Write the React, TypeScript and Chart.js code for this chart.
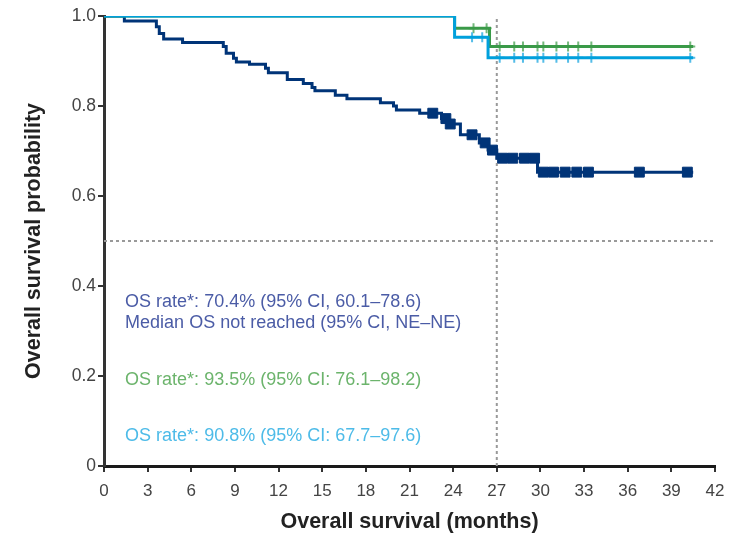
import React, { useEffect, useRef } from 'react';
import { Chart, registerables } from 'chart.js';

Chart.register(...registerables);

// ---- axis ticks ----
const xTickValues = [0, 3, 6, 9, 12, 15, 18, 21, 24, 27, 30, 33, 36, 39, 42];
const yTickValues = [0, 0.2, 0.4, 0.6, 0.8, 1.0];

// ---- navy curve (all patients) ----
const navyTimes = [0, 1.4, 3.6, 3.8, 4.1, 5.4, 8.2, 8.4, 8.9, 9.1, 10.0, 11.1, 11.3, 12.6, 13.7, 14.3, 14.5, 15.9, 16.7, 19.0, 19.9, 20.1, 21.7, 23.2, 23.6, 24.5, 25.8, 26.4, 27.0, 29.8, 40.5];
const navySurv = [1.0, 0.989, 0.976, 0.961, 0.949, 0.941, 0.932, 0.917, 0.906, 0.898, 0.893, 0.884, 0.874, 0.859, 0.85, 0.841, 0.834, 0.824, 0.816, 0.807, 0.8, 0.791, 0.784, 0.772, 0.76, 0.736, 0.718, 0.702, 0.684, 0.653, 0.653];
const navyCensor = [22.6, 23.5, 23.8, 25.3, 26.2, 26.7, 27.4, 28.1, 28.9, 29.6, 30.2, 30.9, 31.7, 32.5, 33.3, 36.8, 40.1];

// ---- green curve ----
const greenTimes = [0, 24.1, 26.5, 40.5];
const greenSurv = [1.0, 0.973, 0.932, 0.932];
const greenCensor = [25.4, 26.3, 27.2, 28.2, 28.8, 29.8, 30.2, 31.1, 31.9, 32.6, 33.5, 40.3];

// ---- cyan curve ----
const cyanTimes = [0, 24.1, 26.4, 40.5];
const cyanSurv = [1.0, 0.953, 0.907, 0.907];
const cyanCensor = [25.3, 26.0, 27.2, 28.2, 28.8, 29.8, 30.2, 31.1, 31.9, 32.6, 33.5, 40.3];

// ---- reference lines ----
const refMonth = 27;
const refSurvival = 0.5;

// ---- annotations ----
const noteLines = [
  'OS rate*: 70.4% (95% CI, 60.1–78.6)',
  'Median OS not reached (95% CI, NE–NE)',
  'OS rate*: 93.5% (95% CI: 76.1–98.2)',
  'OS rate*: 90.8% (95% CI: 67.7–97.6)',
];
const noteMonth = 1.45;
const noteSurvival = [0.364, 0.318, 0.191, 0.067];
const noteColors = ['#4b5ca6', '#4b5ca6', '#6cb46c', '#4dbbe8'];

const NAVY = '#003478';
const GREEN = '#3a9a48';
const CYAN = '#00a0dc';
const FONT = '"Liberation Sans", Arial, sans-serif';

function curve(times: number[], surv: number[]) {
  return times.map((t, i) => ({ x: t, y: surv[i] }));
}
function survAt(times: number[], surv: number[], t: number) {
  let v = surv[0];
  for (let i = 0; i < times.length; i++) if (times[i] <= t) v = surv[i];
  return v;
}
function censorPts(times: number[], surv: number[], cens: number[]) {
  return cens.map((t) => ({ x: t, y: survAt(times, surv, t) }));
}

const notesPlugin = {
  id: 'notes',
  afterDatasetsDraw(chart: any) {
    const { ctx, scales } = chart;
    ctx.save();
    ctx.font = '18px ' + FONT;
    ctx.textAlign = 'left';
    ctx.textBaseline = 'middle';
    noteLines.forEach((txt, i) => {
      ctx.fillStyle = noteColors[i];
      ctx.fillText(txt, scales.x.getPixelForValue(noteMonth), scales.y.getPixelForValue(noteSurvival[i]));
    });
    ctx.restore();
  },
};

export default function App() {
  const ref = useRef<HTMLCanvasElement | null>(null);
  useEffect(() => {
    if (!ref.current) return;
    const lineBase = { type: 'line', stepped: 'before', pointRadius: 0, borderWidth: 3, fill: false };
    const chart = new Chart(ref.current, {
      type: 'line',
      data: {
        datasets: [
          { ...lineBase, label: 'cyan', data: curve(cyanTimes, cyanSurv), borderColor: CYAN },
          { type: 'line', label: 'cyanC', data: censorPts(cyanTimes, cyanSurv, cyanCensor), showLine: false, pointStyle: 'cross', pointRadius: 5, pointBorderWidth: 2, pointBorderColor: '#55bde8' },
          { ...lineBase, label: 'green', data: curve(greenTimes, greenSurv), borderColor: GREEN },
          { type: 'line', label: 'greenC', data: censorPts(greenTimes, greenSurv, greenCensor), showLine: false, pointStyle: 'cross', pointRadius: 5, pointBorderWidth: 2, pointBorderColor: '#74b87c' },
          { type: 'line', label: 'navyC', data: censorPts(navyTimes, navySurv, navyCensor), showLine: false, pointStyle: 'rect', pointRadius: 7, pointBorderWidth: 1, pointBackgroundColor: NAVY, pointBorderColor: NAVY },
          { ...lineBase, label: 'navy', data: curve(navyTimes, navySurv), borderColor: NAVY },
          { type: 'line', label: 'vref', data: [{ x: refMonth, y: 0 }, { x: refMonth, y: 1 }], borderColor: '#999', borderWidth: 2, borderDash: [3, 3], pointRadius: 0 },
          { type: 'line', label: 'href', data: [{ x: 0, y: refSurvival }, { x: 42, y: refSurvival }], borderColor: '#999', borderWidth: 2, borderDash: [3, 3], pointRadius: 0 },
        ] as any,
      },
      options: {
        animation: false,
        responsive: false,
        maintainAspectRatio: false,
        layout: { padding: { top: 16, right: 23, left: 0, bottom: 0 } },
        plugins: { legend: { display: false }, tooltip: { enabled: false } },
        scales: {
          x: {
            type: 'linear',
            min: 0,
            max: 42,
            afterFit: (s: any) => { s.height = 70; },
            afterBuildTicks: (s: any) => { s.ticks = xTickValues.map((v) => ({ value: v })); },
            ticks: { autoSkip: false, maxRotation: 0, padding: 9, color: '#444', font: { size: 17, family: FONT } },
            grid: { drawOnChartArea: false, drawTicks: true, tickLength: 6, color: '#333', lineWidth: 2 },
            border: { display: true, color: '#1a1a1a', width: 3 },
            title: { display: true, text: 'Overall survival (months)', color: '#222', padding: { top: 0, bottom: 1 }, font: { size: 21.5, weight: 'bold', family: FONT } },
          },
          y: {
            type: 'linear',
            min: 0,
            max: 1,
            afterFit: (s: any) => { s.width = 104; },
            afterBuildTicks: (s: any) => { s.ticks = yTickValues.map((v) => ({ value: v })); },
            ticks: { padding: 2, color: '#444', font: { size: 17.5, family: FONT }, callback: (v: any) => (Number(v) === 0 ? '0' : Number(v).toFixed(1)) },
            grid: { drawOnChartArea: false, drawTicks: true, tickLength: 6, color: '#333', lineWidth: 2 },
            border: { display: true, color: '#333', width: 3 },
            title: { display: true, text: 'Overall survival probability', color: '#222', padding: { top: 21, bottom: 0 }, font: { size: 21.5, weight: 'bold', family: FONT } },
          },
        },
      } as any,
      plugins: [notesPlugin],
    });
    return () => chart.destroy();
  }, []);
  return (
    <div style={{ position: 'absolute', left: 0, top: 0, width: 738, height: 536, background: '#fff' }}>
      <canvas ref={ref} width={738} height={536} style={{ display: 'block' }} />
    </div>
  );
}
